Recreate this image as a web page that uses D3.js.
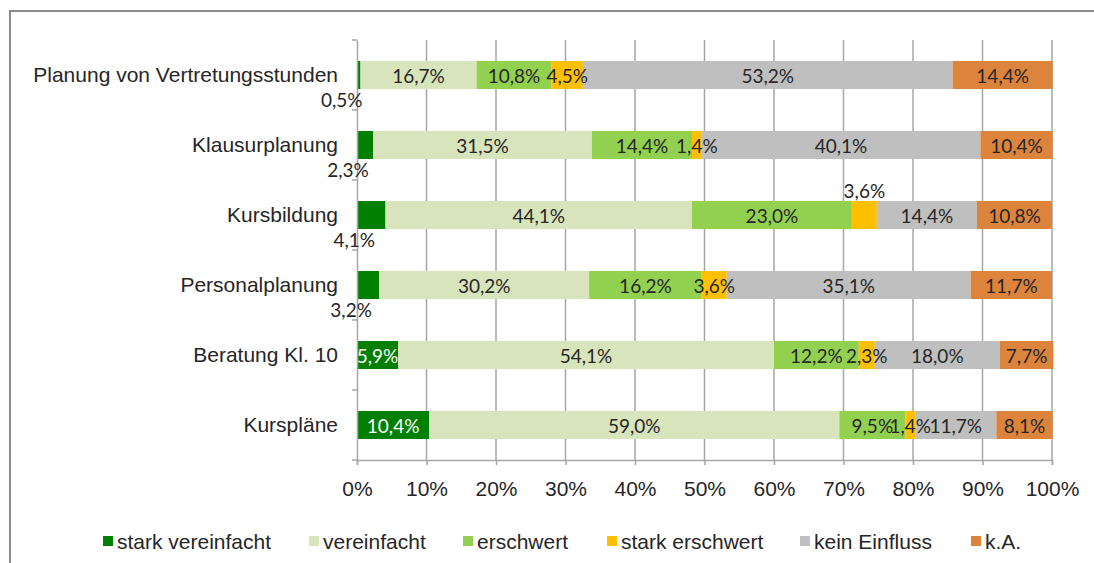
<!DOCTYPE html>
<html>
<head>
<meta charset="utf-8">
<script src="https://cdn.jsdelivr.net/npm/d3@7"></script>
<style>
  body { margin: 0; background: #fff; }
  svg { display: block; }
</style>
</head>
<body>
<div id="chart"></div>
<script>
const categories = [
  "Planung von Vertretungsstunden",
  "Klausurplanung",
  "Kursbildung",
  "Personalplanung",
  "Beratung Kl. 10",
  "Kurspläne"
];

const seriesNames = ["stark vereinfacht", "vereinfacht", "erschwert", "stark erschwert", "kein Einfluss", "k.A."];

const starkVereinfacht = [0.5, 2.3, 4.1, 3.2, 5.9, 10.4];
const vereinfacht = [16.7, 31.5, 44.1, 30.2, 54.1, 59.0];
const erschwert = [10.8, 14.4, 23.0, 16.2, 12.2, 9.5];
const starkErschwert = [4.5, 1.4, 3.6, 3.6, 2.3, 1.4];
const keinEinfluss = [53.2, 40.1, 14.4, 35.1, 18.0, 11.7];
const keineAngabe = [14.4, 10.4, 10.8, 11.7, 7.7, 8.1];

const tickValues = [0, 10, 20, 30, 40, 50, 60, 70, 80, 90, 100];

const colors = ["#008000", "#d8e4bc", "#92d050", "#ffc000", "#bfbfbf", "#dc843c"];

const seriesValues = [starkVereinfacht, vereinfacht, erschwert, starkErschwert, keinEinfluss, keineAngabe];

const table = categories.map((c, i) => {
  const row = { cat: c };
  seriesNames.forEach((s, j) => row[s] = seriesValues[j][i]);
  return row;
});

const W = 1094, H = 563;
const plot = { left: 357, right: 1052, top: 40, bottom: 460 };
const textFont = "'Liberation Sans', Arial, sans-serif";
const labelFont = "Lato, 'Open Sans', sans-serif";

const svg = d3.select("#chart").append("svg")
  .attr("width", W)
  .attr("height", H);

// outer frame
svg.append("rect")
  .attr("x", 10).attr("y", 11)
  .attr("width", 1200).attr("height", 700)
  .attr("fill", "none")
  .attr("stroke", "#8c8c8c")
  .attr("stroke-width", 2);

const x = d3.scaleLinear().domain([0, 100]).range([plot.left, plot.right]);
const y = d3.scaleBand().domain(categories).range([plot.top, plot.bottom]);
const barH = 28;

// gridlines
svg.append("g")
  .selectAll("line")
  .data(tickValues.slice(1))
  .join("line")
  .attr("x1", d => x(d)).attr("x2", d => x(d))
  .attr("y1", plot.top).attr("y2", plot.bottom)
  .attr("stroke", "#a6a6a6")
  .attr("stroke-width", 1.5);

const stacked = d3.stack().keys(seriesNames)(table);

const layers = svg.append("g").selectAll("g")
  .data(stacked)
  .join("g")
  .attr("fill", (d, i) => colors[i]);

layers.selectAll("rect")
  .data(d => d)
  .join("rect")
  .attr("x", d => x(d[0]))
  .attr("y", d => y(d.data.cat) + y.bandwidth() / 2 - barH / 2)
  .attr("width", d => x(d[1]) - x(d[0]))
  .attr("height", barH);

// axes
const xAxis = svg.append("g")
  .attr("transform", `translate(0,${plot.bottom})`)
  .call(d3.axisBottom(x).tickValues(tickValues).tickFormat(d => d + "%").tickSize(5).tickPadding(16));

const yAxis = svg.append("g")
  .attr("transform", `translate(${plot.left},0)`)
  .call(d3.axisLeft(y).tickSize(0).tickPadding(19));

// category boundary ticks on the y axis
svg.append("g")
  .selectAll("line")
  .data(d3.range(categories.length + 1))
  .join("line")
  .attr("x1", plot.left - 5).attr("x2", plot.left)
  .attr("y1", i => plot.top + i * y.step())
  .attr("y2", i => plot.top + i * y.step())
  .attr("stroke", "#a6a6a6")
  .attr("stroke-width", 1.5);

[xAxis, yAxis].forEach(a => {
  a.select(".domain").attr("stroke", "#a6a6a6").attr("stroke-width", 1.5);
  a.selectAll(".tick line").attr("stroke", "#a6a6a6").attr("stroke-width", 1.5);
  a.selectAll("text")
    .attr("fill", "#262626")
    .style("font-family", textFont)
    .style("font-size", "21px");
});

// data labels, drawn above all bars
const fmt = v => v.toFixed(1).replace(".", ",") + "%";
const labelLayer = svg.append("g");
stacked.forEach((layer, si) => {
  labelLayer.append("g").selectAll("text")
    .data(layer)
    .join("text")
    .attr("fill", d => si === 0 && d.data[layer.key] >= 5 ? "#ffffff" : "#262626")
    .attr("text-anchor", "middle")
    .attr("dominant-baseline", "central")
    .style("font-family", labelFont)
    .style("font-size", "19px")
    .attr("x", d => {
      const v = d.data[layer.key];
      const mid = x((d[0] + d[1]) / 2);
      return si === 0 && v < 5 ? mid - 17 : mid;
    })
    .attr("y", d => {
      const v = d.data[layer.key];
      const cy = y(d.data.cat) + y.bandwidth() / 2;
      if (si === 0 && v < 5) return cy + 24;
      if (si === 3 && d.data.cat === "Kursbildung") return cy - 25;
      return cy;
    })
    .text(d => fmt(d.data[layer.key]));
});

// legend
const legendX = [103, 309, 463, 607, 800, 971];
const legend = svg.append("g").selectAll("g")
  .data(seriesNames)
  .join("g")
  .attr("transform", (d, i) => `translate(${legendX[i]},541)`);

legend.append("rect")
  .attr("x", 0).attr("y", -5)
  .attr("width", 10).attr("height", 10)
  .attr("fill", (d, i) => colors[i]);

legend.append("text")
  .attr("x", 14)
  .attr("dominant-baseline", "central")
  .attr("fill", "#262626")
  .style("font-family", textFont)
  .style("font-size", "21px")
  .text(d => d);
</script>
</body>
</html>
